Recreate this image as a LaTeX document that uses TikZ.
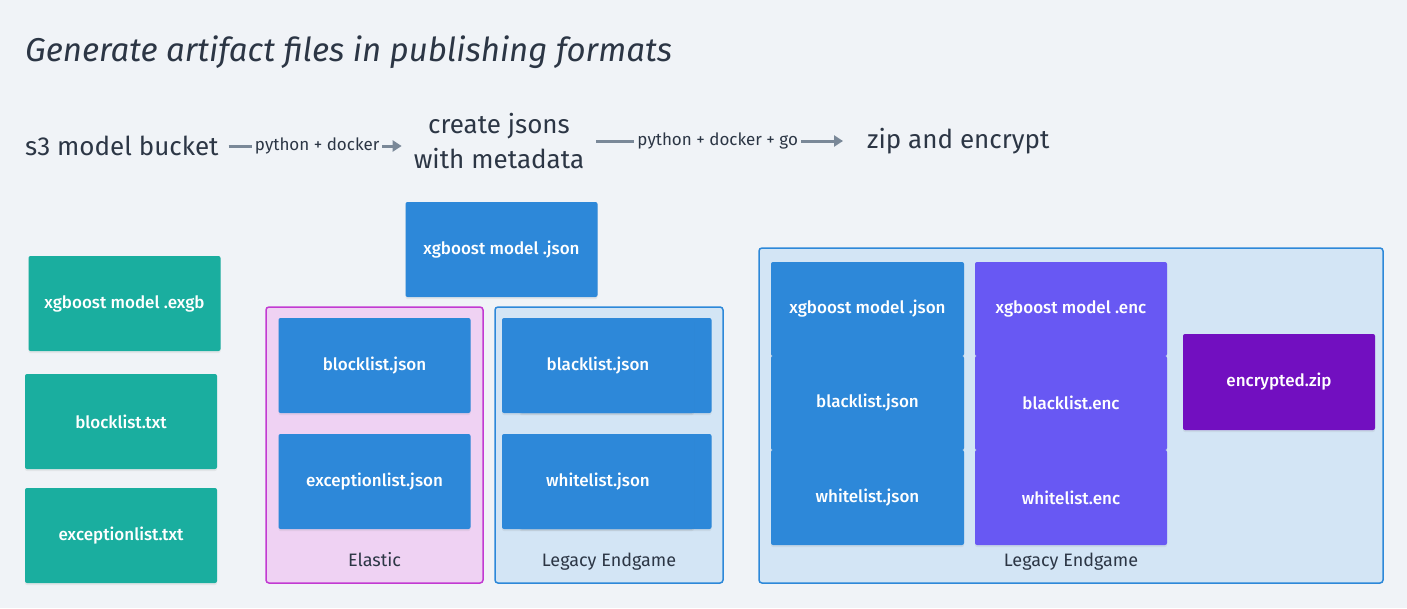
\documentclass[tikz,border=0pt]{standalone}
\usepackage{fontspec}
\setmainfont{Fira Sans}
\newfontfamily\medfont{Fira Sans Medium}
\usetikzlibrary{shadows,arrows.meta}
\definecolor{bg}{HTML}{F0F3F7}
\definecolor{ink}{HTML}{2C3645}
\definecolor{tealc}{HTML}{1AAE9F}
\definecolor{blu}{HTML}{2D88D9}
\definecolor{vio}{HTML}{6858F3}
\definecolor{pur}{HTML}{720FC0}
\definecolor{arrc}{HTML}{7A8898}
\definecolor{elbd}{HTML}{C23AD2}
\definecolor{elfill}{HTML}{EFD2F3}
\definecolor{lgfill}{HTML}{D3E5F5}
\begin{document}
\begin{tikzpicture}[x=1pt,y=-1pt,
  file/.style={rectangle, rounded corners=2pt, inner sep=0pt, text=white,
    minimum width=192pt, minimum height=95pt,
    font=\medfont\fontsize{17}{19}\selectfont,
    drop shadow={opacity=0.12, shadow xshift=0pt, shadow yshift=-2pt}},
  grp/.style={rectangle, rounded corners=3pt, line width=1.5pt, inner sep=0pt},
  lbl/.style={text=ink, inner sep=0pt, font=\fontsize{18}{20}\selectfont},
  big/.style={text=ink, inner sep=0pt, font=\fontsize{26}{35}\selectfont},
  arr/.style={draw=arrc, line width=3pt, -{Triangle[length=9pt,width=11pt]}},
  lab/.style={text=ink, fill=bg, inner sep=3pt, font=\fontsize{17}{19}\selectfont}
]
\fill[bg] (0,0) rectangle (1407,608);
\useasboundingbox (0,0) rectangle (1407,608);

% title and flow
\node[text=ink, inner sep=0pt, anchor=base west, font=\itshape\fontsize{33}{36}\selectfont] (title) at (25,61) {Generate artifact files in publishing formats};
\node[big, anchor=west] (s3) at (25,146) {s3 model bucket};
\node[big, align=center] (cj) at (499,141) {create jsons\\with metadata};
\node[big, anchor=west] (zip) at (867,141) {zip and encrypt};
\draw[arr, shorten <=10pt, shorten >=12pt] (s3.east) -- (s3.east -| cj.west) node[midway, lab, xshift=1pt] {python + docker};
\draw[arr, shorten <=12pt, shorten >=24pt] (cj.east) -- (cj.east -| zip.west) node[midway, lab, xshift=-8pt] {python + docker + go};

% source files
\node[file, fill=tealc] (exgb) at (124.5,303.5) {xgboost model .exgb};
\node[file, fill=tealc] (btxt) at (121,421.5) {blocklist.txt};
\node[file, fill=tealc] (etxt) at (121,535.5) {exceptionlist.txt};

% json model
\node[file, fill=blu] (xjson) at (501.5,249.5) {xgboost model .json};

% Elastic group
\node[grp, draw=elbd, fill=elfill, minimum width=217pt, minimum height=276pt] (elastic) at (374.5,445) {};
\node[file, fill=blu] (bjson) at (374.5,365.5) {blocklist.json};
\node[file, fill=blu] (ejson) at (374.5,481.5) {exceptionlist.json};
\node[lbl, anchor=base] (elasticlbl) at (374.5,566) {Elastic};

% Legacy Endgame group 1
\node[grp, draw=blu, fill=lgfill, minimum width=228pt, minimum height=276pt] (leg1) at (609,445) {};
\node[file, fill=blu] (bljsonb) at (615.5,365.5) {};
\node[file, fill=blu] (bljson) at (598,365.5) {blacklist.json};
\node[file, fill=blu] (wljsonb) at (615.5,481.5) {};
\node[file, fill=blu] (wljson) at (598,481.5) {whitelist.json};
\node[lbl, anchor=base] (leg1lbl) at (609,566) {Legacy Endgame};

% Legacy Endgame group 2
\node[grp, draw=blu, fill=lgfill, minimum width=624pt, minimum height=335pt] (leg2) at (1071,415.5) {};
\node[file, fill=blu, minimum width=193pt, minimum height=94pt] (c1a) at (867.5,309) {xgboost model .json};
\node[file, fill=blu, minimum width=193pt, minimum height=94pt] (c1b) at (867.5,403) {blacklist.json};
\node[file, fill=blu, minimum width=193pt, minimum height=95pt] (c1c) at (867.5,497.5) {whitelist.json};
\node[file, fill=vio, minimum width=192pt, minimum height=94pt] (c2a) at (1071,309) {xgboost model .enc};
\node[file, fill=vio, minimum width=192pt, minimum height=94pt] (c2b) at (1071,403) {blacklist.enc};
\node[file, fill=vio, minimum width=192pt, minimum height=95pt] (c2c) at (1071,497.5) {whitelist.enc};
\node[file, fill=pur, minimum width=192pt, minimum height=96pt] (ezip) at (1279,382) {encrypted.zip};
\node[lbl, anchor=base] (leg2lbl) at (1071,566) {Legacy Endgame};
\end{tikzpicture}
\end{document}
